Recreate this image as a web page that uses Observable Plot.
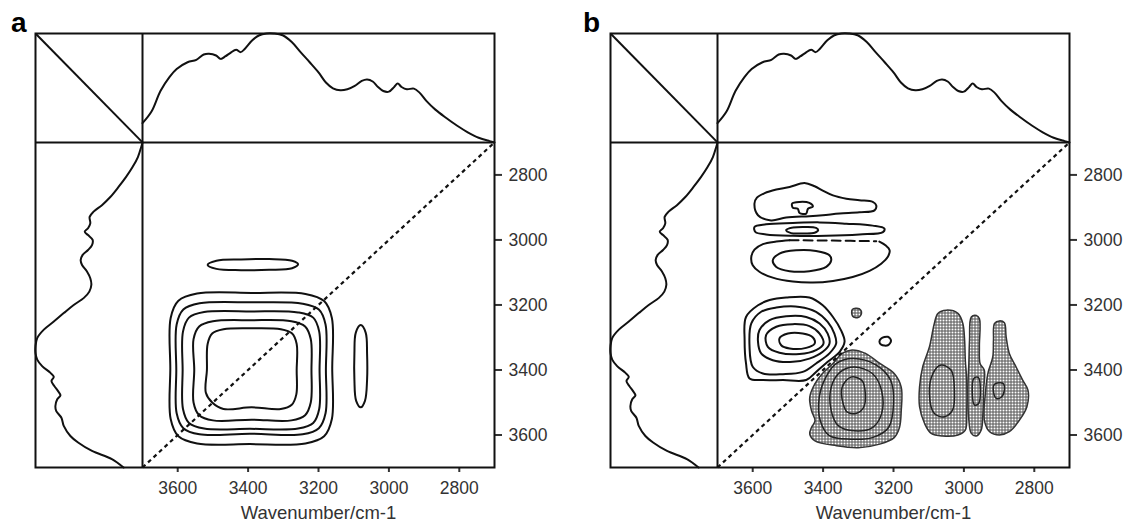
<!DOCTYPE html>
<html><head><meta charset="utf-8">
<script src="https://cdn.jsdelivr.net/npm/d3@7"></script>
<script src="https://cdn.jsdelivr.net/npm/@observablehq/plot@0.6"></script>
<style>
body{margin:0;background:#fff;width:1128px;height:527px;position:relative;overflow:hidden;font-family:"Liberation Sans",Arial,sans-serif}
.panel{position:absolute;top:0;width:553px;height:527px}
.panel svg{max-width:none !important}
.lab{position:absolute;font:bold 28px "Liberation Sans",Arial,sans-serif;line-height:28px;color:#000}
svg g[aria-label="x-axis tick"] path, svg g[aria-label="y-axis tick"] path{stroke-width:2px}
svg g[aria-label="x-axis tick label"], svg g[aria-label="y-axis tick label"]{font-size:17.5px}
</style></head><body>
<div id="pa" class="panel" style="left:0"></div>
<div id="pb" class="panel" style="left:575px"></div>
<div class="lab" style="left:11px;top:9px">a</div>
<div class="lab" style="left:583px;top:9px">b</div>
<script>
// ---------- data ----------
const wavenumber = [3700,3674,3649,3623,3603,3572,3547,3526,3511,3491,3478,3465,3450,3434,3421,3409,3388,3368,3348,3327,3302,3276,3251,3225,3200,3179,3159,3138,3118,3097,3077,3062,3046,3031,3016,3000,2985,2975,2964,2949,2929,2913,2893,2868,2837,2807,2776,2745,2714,2700];
const intensity  = [0.177,0.286,0.472,0.602,0.674,0.736,0.758,0.807,0.814,0.798,0.767,0.789,0.823,0.851,0.829,0.860,0.938,0.984,1.0,1.0,0.984,0.922,0.829,0.736,0.643,0.550,0.497,0.478,0.488,0.519,0.565,0.578,0.559,0.509,0.472,0.466,0.509,0.540,0.509,0.488,0.494,0.457,0.379,0.301,0.224,0.155,0.093,0.043,0.012,0.0];
const axisTicks = [3600, 3400, 3200, 3000, 2800];
const axisTitle = "Wavenumber/cm-1";
const spectralRange = [3700, 2700];

// panel a: synchronous map, contour lines as [x wavenumber, y wavenumber]
const syncRings = [
  [[3620,3240],[3598,3187],[3545,3165],[3390,3163],[3237,3166],[3184,3188],[3162,3240],[3161,3395],[3162,3551],[3184,3604],[3237,3626],[3395,3628],[3545,3626],[3598,3604],[3620,3551],[3621,3395]],
  [[3603,3260],[3584,3214],[3538,3195],[3390,3192],[3245,3196],[3199,3214],[3180,3260],[3179,3400],[3180,3533],[3199,3579],[3245,3598],[3395,3596],[3538,3598],[3584,3579],[3603,3533],[3604,3400]],
  [[3585,3282],[3568,3239],[3525,3222],[3390,3220],[3258,3223],[3215,3239],[3198,3282],[3197,3400],[3198,3520],[3215,3563],[3258,3580],[3395,3581],[3525,3580],[3568,3563],[3585,3520],[3586,3400]],
  [[3555,3305],[3539,3266],[3500,3250],[3390,3247],[3277,3250],[3238,3266],[3222,3305],[3220,3400],[3222,3500],[3238,3539],[3277,3555],[3390,3553],[3500,3555],[3539,3539],[3555,3500],[3553,3400]],
  [[3515,3320],[3502,3288],[3470,3275],[3390,3272],[3307,3275],[3275,3288],[3262,3320],[3262,3400],[3263,3475],[3276,3507],[3307,3520],[3390,3515],[3470,3520],[3502,3500],[3520,3470],[3517,3400]],
  [[3515,3077],[3490,3064],[3420,3060],[3340,3059],[3275,3064],[3258,3075],[3275,3087],[3340,3092],[3420,3093],[3490,3089]],
  [[3080,3262],[3066,3285],[3062,3350],[3062,3430],[3068,3495],[3080,3515],[3093,3495],[3098,3430],[3098,3350],[3094,3285]]
];

// panel b: asynchronous map
const asyncClosed = [
  [[3595,2888],[3588,2870],[3566,2856],[3533,2845],[3495,2837],[3453,2825],[3424,2835],[3401,2848],[3372,2863],[3334,2873],[3297,2878],[3259,2883],[3249,2894],[3254,2909],[3297,2915],[3353,2919],[3401,2924],[3439,2927],[3505,2931],[3548,2940],[3585,2924]],
  [[3488,2888],[3467,2883],[3439,2886],[3429,2897],[3443,2904],[3448,2919],[3467,2917],[3472,2904],[3486,2901]],
  [[3595,2960],[3562,2952],[3486,2948],[3410,2946],[3334,2950],[3259,2956],[3226,2965],[3230,2976],[3297,2983],[3391,2987],[3486,2987],[3562,2983],[3592,2976]],
  [[3505,2970],[3486,2962],[3448,2960],[3420,2963],[3414,2970],[3424,2978],[3458,2980],[3491,2979]],
  [[3543,3063],[3524,3042],[3477,3032],[3420,3034],[3382,3047],[3377,3063],[3391,3083],[3439,3096],[3495,3096],[3533,3083]],
  [[3619,3237],[3585,3201],[3552,3185],[3505,3177],[3439,3177],[3401,3201],[3372,3237],[3349,3278],[3339,3313],[3353,3344],[3387,3375],[3420,3406],[3448,3431],[3514,3431],[3571,3431],[3609,3426],[3619,3380],[3623,3308]],
  [[3604,3257],[3576,3221],[3533,3208],[3467,3206],[3420,3221],[3387,3252],[3368,3288],[3363,3319],[3382,3349],[3420,3380],[3458,3406],[3514,3413],[3571,3411],[3600,3390],[3609,3329]],
  [[3581,3278],[3552,3247],[3505,3235],[3448,3237],[3410,3257],[3387,3288],[3382,3319],[3401,3344],[3439,3365],[3486,3375],[3543,3370],[3576,3349],[3585,3313]],
  [[3562,3293],[3533,3267],[3486,3259],[3439,3265],[3410,3288],[3399,3319],[3420,3339],[3467,3351],[3524,3347],[3557,3329]],
  [[3524,3303],[3500,3288],[3458,3288],[3429,3300],[3424,3319],[3448,3332],[3495,3334],[3519,3324]],
  [[3235,3303],[3216,3298],[3207,3310],[3216,3324],[3235,3322],[3240,3313]]
];
const asyncOpen = [
  [[3495,3001],[3533,3005],[3571,3013],[3595,3030],[3604,3052],[3600,3078],[3581,3098],[3543,3116],[3486,3128],[3429,3131],[3372,3126],[3316,3114],[3268,3095],[3235,3073],[3216,3052],[3211,3032],[3223,3016],[3240,3005]]
];
const asyncDashed = [
  [[3495,3001],[3372,3002],[3249,3004]]
];
const asyncNegative = [
  [[3321,3339],[3280,3349],[3239,3380],[3198,3411],[3178,3453],[3178,3525],[3183,3577],[3198,3608],[3239,3628],[3300,3639],[3362,3633],[3423,3618],[3438,3597],[3433,3577],[3423,3556],[3433,3525],[3438,3484],[3423,3442],[3402,3411],[3372,3380],[3346,3349]],
  [[3050,3216],[3017,3226],[3003,3257],[2998,3308],[2996,3370],[2992,3431],[2992,3534],[2996,3585],[3017,3600],[3060,3603],[3093,3595],[3112,3564],[3126,3513],[3126,3452],[3117,3390],[3098,3329],[3084,3257],[3074,3226]],
  [[2979,3237],[2965,3232],[2956,3242],[2956,3329],[2954,3380],[2942,3401],[2944,3462],[2946,3534],[2951,3585],[2965,3603],[2979,3595],[2986,3554],[2989,3462],[2986,3380],[2984,3308]],
  [[2913,3257],[2899,3249],[2885,3255],[2880,3298],[2871,3349],[2852,3390],[2833,3431],[2818,3462],[2821,3513],[2842,3554],[2871,3590],[2899,3600],[2927,3590],[2942,3554],[2939,3472],[2932,3411],[2918,3360],[2916,3308]],
  [[3317,3214],[3297,3212],[3291,3226],[3301,3239],[3316,3235]]
];
const asyncNegativeInner = [
  [[3321,3422],[3290,3432],[3280,3473],[3285,3515],[3305,3533],[3331,3530],[3343,3504],[3346,3453]],
  [[3311,3391],[3260,3411],[3234,3463],[3234,3535],[3260,3577],[3311,3587],[3357,3571],[3377,3525],[3377,3453],[3351,3406]],
  [[3316,3365],[3249,3385],[3208,3432],[3200,3504],[3214,3577],[3260,3608],[3321,3613],[3382,3602],[3408,3556],[3411,3484],[3392,3422],[3362,3380]],
  [[3065,3385],[3036,3401],[3027,3462],[3032,3523],[3055,3544],[3084,3534],[3098,3472],[3088,3411]],
  [[2972,3426],[2959,3423],[2958,3503],[2970,3508]],
  [[2913,3444],[2889,3441],[2885,3462],[2894,3484],[2907,3488],[2916,3467]]
];

// ---------- drawing ----------
const stripX = 4004, stripY = 2365; // outer edges of the side strips, in the plot's own units
const [lo, hi] = spectralRange;
const rows = shapes => shapes.flatMap((s, k) => s.map(([x, y]) => ({x, y, k})));
const topSpec = wavenumber.map((w, i) => ({x: w, y: hi - intensity[i] * (hi - stripY)}));
const leftSpec = wavenumber.map((w, i) => ({y: w, x: lo + intensity[i] * (stripX - lo)}));
const ink = "#111";

function panel(extraMarks) {
  return Plot.plot({
    width: 553, height: 527,
    marginLeft: 35, marginRight: 59, marginTop: 33, marginBottom: 60,
    style: {fontFamily: "'Liberation Sans', Arial, sans-serif", fontSize: "17.5px", color: "#333", background: "#fff", overflow: "visible"},
    x: {domain: [stripX, hi], axis: "bottom", ticks: axisTicks, tickSize: 5, tickPadding: 9, tickFormat: d => String(d), label: null},
    y: {domain: [lo, stripY], axis: "right", ticks: axisTicks, tickSize: 7, tickPadding: 7, tickFormat: d => String(d), label: null},
    marks: [
      ...extraMarks,
      Plot.link([0], {x1: stripX, y1: stripY, x2: lo, y2: hi, stroke: ink, strokeWidth: 2}),
      Plot.link([0], {x1: lo, y1: lo, x2: hi, y2: hi, stroke: ink, strokeWidth: 2.2, strokeDasharray: "4 3.5"}),
      Plot.ruleX([lo], {stroke: ink, strokeWidth: 2}),
      Plot.ruleY([hi], {stroke: ink, strokeWidth: 2}),
      Plot.line(topSpec, {x: "x", y: "y", stroke: ink, strokeWidth: 2, curve: "catmull-rom"}),
      Plot.line(leftSpec, {x: "x", y: "y", stroke: ink, strokeWidth: 2, curve: "catmull-rom"}),
      Plot.frame({stroke: ink, strokeWidth: 2}),
      Plot.text([axisTitle], {x: [(lo + hi) / 2], frameAnchor: "bottom", dy: 51, fontSize: 18.5, fill: "#333"})
    ]
  });
}

const svgA = panel([
  Plot.line(rows(syncRings), {x: "x", y: "y", z: "k", curve: "catmull-rom-closed", stroke: ink, strokeWidth: 2})
]);
document.getElementById("pa").appendChild(svgA);

const svgB = panel([
  Plot.line(rows(asyncNegative), {x: "x", y: "y", z: "k", curve: "catmull-rom-closed", fill: "url(#hatchB)", stroke: "#333", strokeWidth: 1.5}),
  Plot.line(rows(asyncNegativeInner), {x: "x", y: "y", z: "k", curve: "catmull-rom-closed", stroke: "#222", strokeWidth: 1.5}),
  Plot.line(rows(asyncClosed), {x: "x", y: "y", z: "k", curve: "catmull-rom-closed", stroke: ink, strokeWidth: 2}),
  Plot.line(rows(asyncOpen), {x: "x", y: "y", z: "k", curve: "catmull-rom", stroke: ink, strokeWidth: 2}),
  Plot.line(rows(asyncDashed), {x: "x", y: "y", z: "k", curve: "catmull-rom", stroke: ink, strokeWidth: 2, strokeDasharray: "9 5"})
]);
const defs = d3.select(svgB).insert("defs", ":first-child");
const pat = defs.append("pattern").attr("id", "hatchB").attr("patternUnits", "userSpaceOnUse").attr("width", 3).attr("height", 3);
pat.append("rect").attr("width", 3).attr("height", 3).attr("fill", "#fff");
pat.append("rect").attr("x", 0).attr("y", 0).attr("width", 3).attr("height", 1).attr("fill", "#555");
pat.append("rect").attr("x", 0).attr("y", 0).attr("width", 1).attr("height", 3).attr("fill", "#555");
document.getElementById("pb").appendChild(svgB);
</script></body></html>
